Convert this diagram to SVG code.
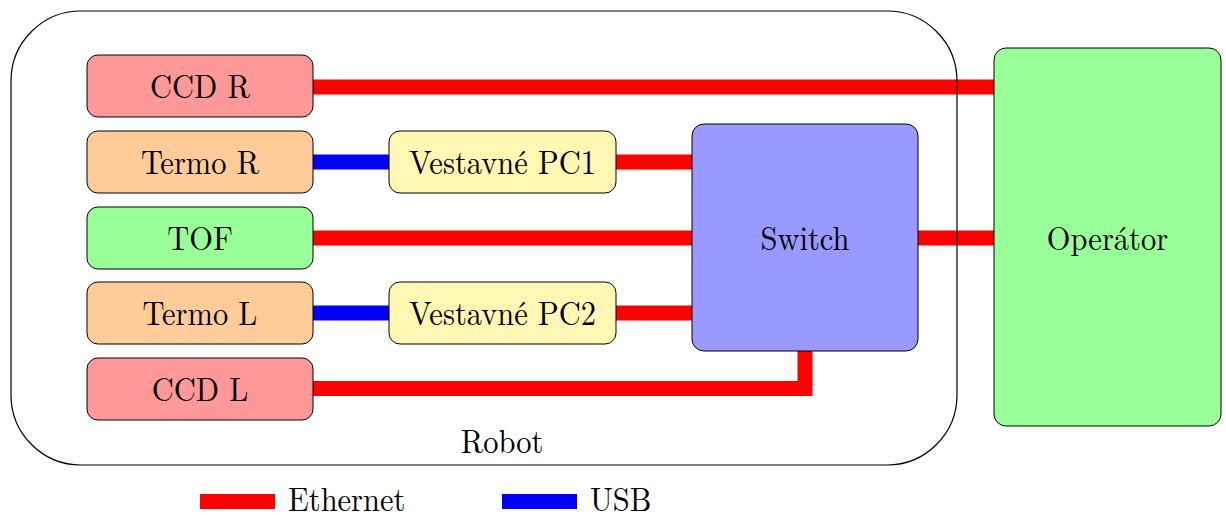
<svg xmlns="http://www.w3.org/2000/svg" width="1226" height="515" viewBox="0 0 1226 515" font-family="Latin Modern Roman, Liberation Serif, serif">
<style>
text{font-size:30.5px;fill:#000;text-anchor:middle}
.n{stroke:#000;stroke-width:1}
.eth{stroke:#ff0000;stroke-width:15;fill:none}
.usb{stroke:#0000ff;stroke-width:15;fill:none}
.red{fill:#ff9999}.org{fill:#ffcc99}.grn{fill:#99ff99}.yel{fill:#fff7b3}.blu{fill:#9999ff}
</style>
<g id="connectors">
<line class="eth" x1="313" y1="87" x2="994" y2="87"/>
<line class="usb" x1="313" y1="162" x2="389" y2="162"/>
<line class="eth" x1="616" y1="162" x2="692" y2="162"/>
<line class="eth" x1="313" y1="238" x2="692" y2="238"/>
<line class="eth" x1="918" y1="238" x2="994" y2="238"/>
<line class="usb" x1="313" y1="313" x2="389" y2="313"/>
<line class="eth" x1="616" y1="313" x2="692" y2="313"/>
<polyline class="eth" points="313,388.5 805,388.5 805,351"/>
</g>
<g id="robot">
<rect x="11" y="11" width="946" height="454" rx="70" ry="70" fill="none" stroke="#000" stroke-width="1.2"/>
<text transform="translate(502,453) scale(1,1.12)">Robot</text>
</g>
<g id="ccdr"><rect class="n red" x="87" y="55" width="226" height="62" rx="11"/><text transform="translate(200,98) scale(1,1.12)">CCD R</text></g>
<g id="termor"><rect class="n org" x="87" y="131" width="226" height="62" rx="11"/><text transform="translate(200,174) scale(1,1.12)">Termo R</text></g>
<g id="tof"><rect class="n grn" x="87" y="207" width="226" height="62" rx="11"/><text transform="translate(200,250) scale(1,1.12)">TOF</text></g>
<g id="terml"><rect class="n org" x="87" y="282" width="226" height="62" rx="11"/><text transform="translate(200,325) scale(1,1.12)">Termo L</text></g>
<g id="ccdl"><rect class="n red" x="87" y="358" width="226" height="62" rx="11"/><text transform="translate(200,401) scale(1,1.12)">CCD L</text></g>
<g id="pc1"><rect class="n yel" x="389" y="131" width="227" height="62" rx="11"/><text transform="translate(502.5,174) scale(1,1.12)">Vestavné PC1</text></g>
<g id="pc2"><rect class="n yel" x="389" y="282" width="227" height="62" rx="11"/><text transform="translate(502.5,325) scale(1,1.12)">Vestavné PC2</text></g>
<g id="switch"><rect class="n blu" x="692" y="124" width="226" height="227" rx="12"/><text transform="translate(805,250) scale(1,1.12)">Switch</text></g>
<g id="operator"><rect class="n grn" x="994" y="48" width="227" height="378" rx="12"/><text transform="translate(1107.5,250) scale(1,1.12)">Operátor</text></g>
<g id="legend">
<rect x="200" y="494" width="75" height="15" fill="#ff0000"/>
<text transform="translate(288,511) scale(1,1.12)" style="text-anchor:start">Ethernet</text>
<rect x="502" y="494" width="75" height="15" fill="#0000ff"/>
<text transform="translate(590,511) scale(1,1.12)" style="text-anchor:start">USB</text>
</g>
</svg>
